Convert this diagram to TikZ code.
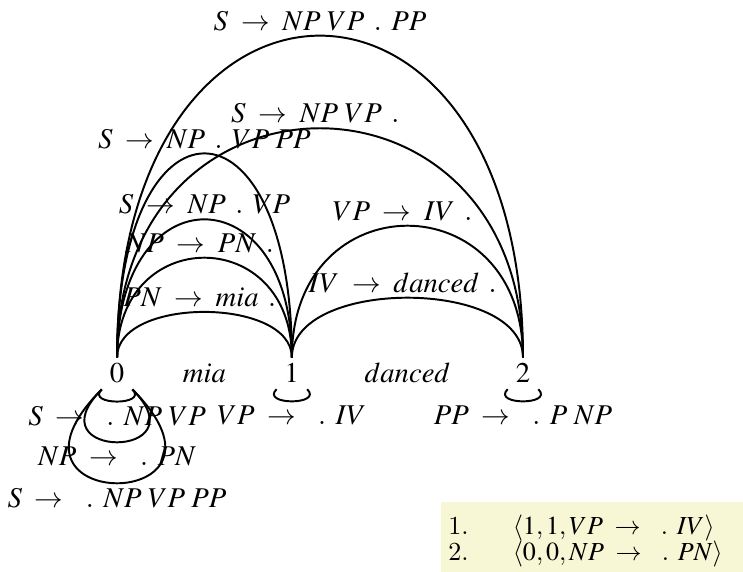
\documentclass[tikz,border=0pt]{standalone}
\usepackage{mathptmx}
\usepackage{tikz}
\usetikzlibrary{arrows.meta,positioning,calc}
\definecolor{agendabg}{RGB}{247,247,213}
\newcommand{\rarr}{\;\rightarrow\;}
\newcommand{\dotm}{\;\,.\;\,}

\begin{document}
\begin{tikzpicture}[>=Stealth,font=\fontsize{11}{13}\selectfont,
  num/.style={inner sep=2.2pt,minimum width=0.4cm},
  lbl/.style={inner sep=1.5pt},
  arc/.style={line width=0.75pt},
  agenda/.style={fill=agendabg,anchor=north west,text width=4.4cm,text depth=0.9cm,align=left,inner xsep=3pt,inner ysep=5pt,font=\fontsize{10}{9}\selectfont}]
  \useasboundingbox (-1.58,-2.67) rectangle (8.45,5.04);
  \node[num] (n0) at (0,0) {$0$};
  \node[num] (n1) at (2.36,0) {$1$};
  \node[num] (n2) at (5.48,0) {$2$};
  \path (n0.base) -- node[anchor=base] (w1) {$mia$} (n1.base);
  \path (n1.base) -- node[anchor=base] (w2) {$danced$} (n2.base);
  \draw[arc] (n0.north) to[out=90,in=90,looseness=0.89] node[lbl,above] {$PN \rarr mia\dotm$} (n1.north);
  \draw[arc] (n0.north) to[out=90,in=90,looseness=1.95] node[lbl,above] {$NP \rarr PN\dotm$} (n1.north);
  \draw[arc] (n0.north) to[out=90,in=90,looseness=2.70] node[lbl,above] {$S \rarr NP\dotm VP$} (n1.north);
  \draw[arc] (n0.north) to[out=90,in=90,looseness=3.99] node[lbl,above] {$S \rarr NP\dotm VP\;PP$} (n1.north);
  \draw[arc] (n0.north) to[out=90,in=90,looseness=1.93] node[lbl,above] {$S \rarr NP\;VP\dotm$} (n2.north);
  \draw[arc] (n0.north) to[out=90,in=90,looseness=2.71] node[lbl,above] {$S \rarr NP\;VP\dotm PP$} (n2.north);
  \draw[arc] (n1.north) to[out=90,in=90,looseness=0.885] node[lbl,above] {$IV \rarr danced\dotm$} (n2.north);
  \draw[arc] (n1.north) to[out=90,in=90,looseness=1.95] node[lbl,above] {$VP \rarr IV\dotm$} (n2.north);
  \draw[arc] (n0.south west) to[out=-135,in=-45,looseness=1.92] node[lbl,below] {$S \rarr \dotm NP\;VP$} (n0.south east);
  \draw[arc] (n0.south west) to[out=-135,in=-45,looseness=8.34] node[lbl,below] {$NP \rarr \dotm PN$} (n0.south east);
  \draw[arc] (n0.south west) to[out=-135,in=-45,looseness=14.8] node[lbl,below] {$S \rarr \dotm NP\;VP\;PP$} (n0.south east);
  \draw[arc] (n1.south west) to[out=-135,in=-45,looseness=1.92] node[lbl,below] {$VP \rarr \dotm IV$} (n1.south east);
  \draw[arc] (n2.south west) to[out=-135,in=-45,looseness=1.92] node[lbl,below] {$PP \rarr \dotm P\;NP$} (n2.south east);
  \node[agenda] (agenda) at (4.36,-1.73) {%
    \begin{tabular}{@{}l@{\hspace{17pt}}l@{}}
      1. & $\langle 1,1,VP \rarr \dotm IV\rangle$\\
      2. & $\langle 0,0,NP \rarr \dotm PN\rangle$
    \end{tabular}};
\end{tikzpicture}
\end{document}
